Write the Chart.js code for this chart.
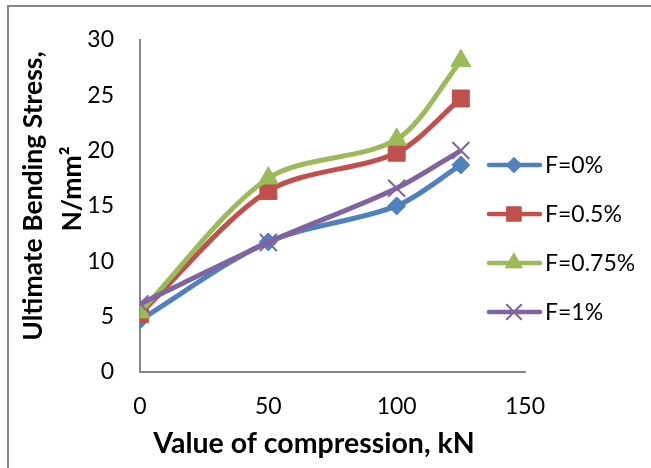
<!DOCTYPE html>
<html>
<head>
<meta charset="utf-8">
<script src="https://cdn.jsdelivr.net/npm/chart.js@4/dist/chart.umd.min.js"></script>
<style>
  html, body { margin: 0; padding: 0; background: #fff; }
  #wrap { width: 651px; height: 468px; position: relative; }
</style>
</head>
<body>
<div id="wrap"><canvas id="c" width="651" height="468"></canvas></div>
<script>
const compression = [0, 50, 100, 125];
const seriesNames = ['F=0%', 'F=0.5%', 'F=0.75%', 'F=1%'];
const stressF0 = [4.7, 11.75, 15.0, 18.7];
const stressF05 = [5.25, 16.35, 19.8, 24.7];
const stressF075 = [5.4, 17.5, 21.0, 28.1];
const stressF1 = [6.15, 11.7, 16.6, 20.0];
const xTicks = [0, 50, 100, 150];
const yTicks = [0, 5, 10, 15, 20, 25, 30];
const xTitle = 'Value of compression, kN';
const yTitle = ['Ultimate Bending Stress,', 'N/mm\u00B2'];

const colors = ['#4F81BD', '#C0504D', '#9BBB59', '#8064A2'];
const styles = ['rectRot', 'rect', 'triangle', 'crossRot'];
const radii = [9, 12, 11.5, 12];
const allValues = [stressF0, stressF05, stressF075, stressF1];

const FONT = 'Lato, "Open Sans", "DejaVu Sans", sans-serif';

const datasets = allValues.map((vals, i) => ({
  label: seriesNames[i],
  data: compression.map((x, j) => ({ x: x, y: vals[j] })),
  borderColor: colors[i],
  backgroundColor: colors[i],
  pointBackgroundColor: colors[i],
  pointBorderColor: colors[i],
  pointStyle: styles[i],
  pointRadius: radii[i],
  pointBorderWidth: styles[i] === 'crossRot' ? 2 : 1,
  borderWidth: 5,
  tension: 0.3,
  fill: false,
  order: 3 - i
}));

const decorPlugin = {
  id: 'decor',
  beforeDraw(chart) {
    const ctx = chart.ctx;
    ctx.save();
    ctx.fillStyle = '#fff';
    ctx.fillRect(0, 0, chart.width, chart.height);
    ctx.strokeStyle = '#868686';
    ctx.lineWidth = 2;
    ctx.beginPath();
    ctx.moveTo(8, chart.height);
    ctx.lineTo(8, 6);
    ctx.lineTo(chart.width, 6);
    ctx.stroke();
    ctx.restore();
  },
  afterDraw(chart) {
    const ctx = chart.ctx;
    ctx.save();
    // axis titles
    ctx.fillStyle = '#000';
    ctx.textAlign = 'center';
    ctx.textBaseline = 'middle';
    ctx.font = 'bold 28.5px ' + FONT;
    ctx.fillText(xTitle, 314, 444);
    ctx.font = 'bold 26.5px ' + FONT;
    ctx.save();
    ctx.translate(33, 196);
    ctx.rotate(-Math.PI / 2);
    ctx.fillText(yTitle[0], 0, 0);
    ctx.restore();
    ctx.save();
    ctx.translate(72, 189);
    ctx.rotate(-Math.PI / 2);
    ctx.fillText(yTitle[1], 0, 0);
    ctx.restore();
    // legend
    chart.data.datasets.forEach((ds, i) => {
      const y = 165 + 49 * i;
      ctx.strokeStyle = ds.borderColor;
      ctx.lineWidth = 4.5;
      ctx.lineCap = 'round';
      ctx.beginPath();
      ctx.moveTo(489, y);
      ctx.lineTo(540, y);
      ctx.stroke();
      ctx.fillStyle = ds.borderColor;
      ctx.strokeStyle = ds.borderColor;
      ctx.lineWidth = ds.pointBorderWidth;
      Chart.helpers.drawPoint(ctx, {
        pointStyle: ds.pointStyle,
        radius: ds.pointRadius * 0.85,
        rotation: 0,
        borderWidth: ds.pointBorderWidth
      }, 514, y);
      ctx.fillStyle = '#000';
      ctx.font = '23px ' + FONT;
      ctx.textAlign = 'left';
      ctx.textBaseline = 'middle';
      ctx.fillText(ds.label, 545, y + 1);
    });
    ctx.restore();
  }
};

new Chart(document.getElementById('c'), {
  type: 'line',
  data: { datasets: datasets },
  options: {
    responsive: false,
    animation: false,
    devicePixelRatio: 1,
    layout: { padding: { left: 0, right: 126, top: 37, bottom: 0 } },
    plugins: { legend: { display: false }, tooltip: { enabled: false } },
    scales: {
      x: {
        type: 'linear',
        min: 0, max: 150,
        afterBuildTicks(axis) { axis.ticks = xTicks.map(v => ({ value: v })); },
        afterFit(axis) { axis.height = 96; },
        grid: { display: false, drawTicks: false },
        border: { display: true, color: '#868686', width: 2 },
        ticks: { color: '#000', font: { family: FONT, size: 23 }, padding: 21, maxRotation: 0 }
      },
      y: {
        type: 'linear',
        min: 0, max: 30,
        afterBuildTicks(axis) { axis.ticks = yTicks.map(v => ({ value: v })); },
        afterFit(axis) { axis.width = 140; },
        grid: { display: false, drawTicks: false },
        border: { display: true, color: '#868686', width: 2 },
        ticks: { color: '#000', font: { family: FONT, size: 23 }, padding: 26 }
      }
    }
  },
  plugins: [decorPlugin]
});
</script>
</body>
</html>
